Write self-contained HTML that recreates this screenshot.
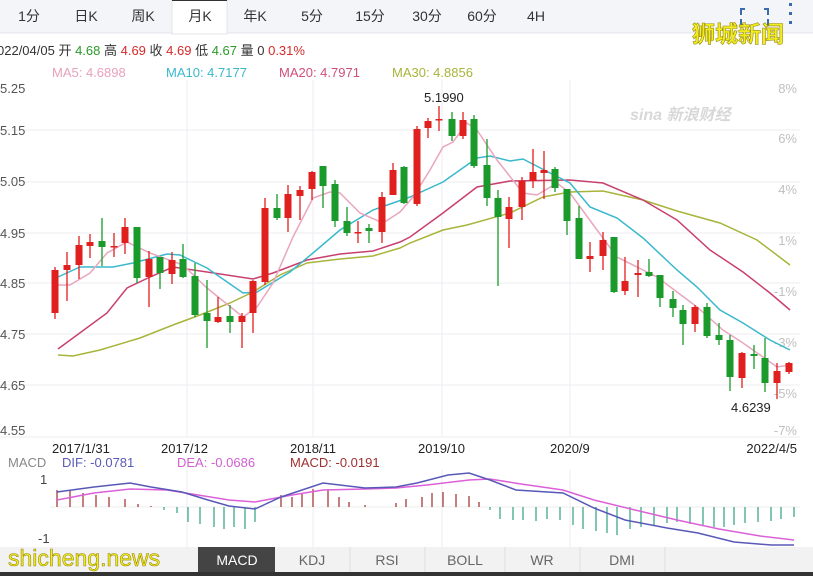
<!DOCTYPE html>
<html><head><meta charset="utf-8"><style>
body{margin:0;width:813px;height:576px;overflow:hidden;background:#fff;font-family:"Liberation Sans","Noto Sans CJK SC",sans-serif;}
svg{position:absolute;left:0;top:0}
</style></head><body>
<svg id="s" width="813" height="576" xmlns="http://www.w3.org/2000/svg" font-family="Liberation Sans, Noto Sans CJK SC, sans-serif">
<rect x="0" y="0" width="813" height="33" fill="#f3f5f8"/>
<line x1="0" y1="33" x2="813" y2="33" stroke="#e0e4ea"/>
<rect x="172" y="0" width="55" height="34" fill="#fff" stroke="#e0e4ea"/>
<line x1="172" y1="0.5" x2="227" y2="0.5" stroke="#333"/>
<g font-size="14" fill="#333" text-anchor="middle">
<text x="29" y="21">1分</text><text x="86" y="21">日K</text><text x="143" y="21">周K</text><text x="200" y="21">月K</text><text x="255" y="21">年K</text><text x="312" y="21">5分</text><text x="370" y="21">15分</text><text x="427" y="21">30分</text><text x="482" y="21">60分</text><text x="536" y="21">4H</text>
</g>
<path d="M745 9h-4v6M764 9h4v6M745 25h-4v-6M764 25h4v-6" stroke="#3a6ab0" stroke-width="2" fill="none"/>
<g fill="#3a6ab0"><rect x="789" y="3" width="3" height="3"/><rect x="789" y="12" width="3" height="3"/><rect x="789" y="21" width="3" height="3"/></g>
<text x="692" y="42" font-size="23" fill="#f2ee1e" stroke="#9a8a10" stroke-width="0.6" font-weight="bold">狮城新闻</text>
<g font-size="13">
<text x="-3" y="55" fill="#333">022/04/05 开 <tspan fill="#2a9a2a">4.68</tspan> 高 <tspan fill="#d42a2a">4.69</tspan> 收 <tspan fill="#d42a2a">4.69</tspan> 低 <tspan fill="#2a9a2a">4.67</tspan> 量 0 <tspan fill="#d42a2a">0.31%</tspan></text>
<text x="52" y="77" fill="#e8a0bd">MA5: 4.6898</text>
<text x="166" y="77" fill="#3ab8cc">MA10: 4.7177</text>
<text x="279" y="77" fill="#d0507a">MA20: 4.7971</text>
<text x="392" y="77" fill="#a8b43a">MA30: 4.8856</text>
</g>
<g stroke="#eceef2"><line x1="0" y1="130" x2="800" y2="130"/><line x1="0" y1="182" x2="800" y2="182"/><line x1="0" y1="233" x2="800" y2="233"/><line x1="0" y1="283" x2="800" y2="283"/><line x1="0" y1="334" x2="800" y2="334"/><line x1="0" y1="385" x2="800" y2="385"/><line x1="0" y1="437" x2="800" y2="437"/>
<line x1="187" y1="80" x2="187" y2="437"/><line x1="313" y1="80" x2="313" y2="437"/><line x1="442" y1="80" x2="442" y2="437"/><line x1="570" y1="80" x2="570" y2="437"/>
<line x1="187" y1="470" x2="187" y2="547"/><line x1="313" y1="470" x2="313" y2="547"/><line x1="442" y1="470" x2="442" y2="547"/><line x1="570" y1="470" x2="570" y2="547"/>
</g>
<g font-size="13" fill="#555"><text x="0" y="93">5.25</text><text x="0" y="135">5.15</text><text x="0" y="186">5.05</text><text x="0" y="238">4.95</text><text x="0" y="288">4.85</text><text x="0" y="339">4.75</text><text x="0" y="390">4.65</text><text x="0" y="435">4.55</text></g>
<g font-size="13" fill="#c0c0c0" text-anchor="end"><text x="797" y="93">8%</text><text x="797" y="143">6%</text><text x="797" y="194">4%</text><text x="797" y="245">1%</text><text x="797" y="296">-1%</text><text x="797" y="347">-3%</text><text x="797" y="398">-5%</text><text x="797" y="435">-7%</text></g>
<text x="630" y="120" font-size="16" fill="#d8d8d8" font-style="italic" font-weight="bold">sina 新浪财经</text>
<g id="candles"></g>
<g font-size="13" fill="#222"><text x="424" y="102">5.1990</text><text x="731" y="412">4.6239</text></g>
<g font-size="13" fill="#222"><text x="52" y="453">2017/1/31</text><text x="161" y="453">2017/12</text><text x="290" y="453">2018/11</text><text x="418" y="453">2019/10</text><text x="550" y="453">2020/9</text><text x="797" y="453" text-anchor="end">2022/4/5</text></g>
<g font-size="13"><text x="8" y="467" fill="#888">MACD</text><text x="62" y="467" fill="#5a5ab8">DIF: -0.0781</text><text x="177" y="467" fill="#d060d0">DEA: -0.0686</text><text x="290" y="467" fill="#a03030">MACD: -0.0191</text></g>
<g font-size="13" fill="#444"><text x="40" y="484">1</text><text x="38" y="543">-1</text></g>
<line x1="50" y1="507" x2="800" y2="507" stroke="#eee"/>
<g id="macd"></g>
<rect x="0" y="547" width="813" height="29" fill="#f2f2f2"/>
<rect x="198" y="547" width="77" height="25" fill="#444"/>
<g stroke="#ddd"><line x1="350" y1="547" x2="350" y2="572"/><line x1="425" y1="547" x2="425" y2="572"/><line x1="505" y1="547" x2="505" y2="572"/><line x1="580" y1="547" x2="580" y2="572"/><line x1="665" y1="547" x2="665" y2="572"/></g>
<g font-size="14" text-anchor="middle" fill="#666"><text x="237" y="565" fill="#fff">MACD</text><text x="312" y="565">KDJ</text><text x="387" y="565">RSI</text><text x="465" y="565">BOLL</text><text x="542" y="565">WR</text><text x="622" y="565">DMI</text></g>
<rect x="0" y="572" width="813" height="4" fill="#333"/>
<text x="8" y="566" font-size="23" fill="#f2ee1e" stroke="#9a8a10" stroke-width="0.6">shicheng.news</text>
</svg>
<script>
var C=[[55,270,313,267,319,1],[67,265,270,252,301,1],[79,245,265,236,279,1],[90,242,246,234,258,1],[102,241,247,218,266,0],[114,246,247,233,257,1],[125,227,243,218,254,1],[137,227,278,227,283,0],[149,259,277,251,307,1],[160,257,273,257,289,0],[172,260,274,252,284,1],[183,259,277,244,278,0],[195,276,315,263,317,0],[207,313,321,280,348,0],[218,317,322,297,323,1],[230,316,322,305,333,0],[242,316,322,313,348,1],[253,281,313,280,333,1],[265,208,282,198,285,1],[277,208,218,194,220,0],[288,194,218,185,232,1],[300,190,196,186,220,1],[312,172,189,171,200,1],[323,166,186,166,208,0],[335,184,221,180,227,0],[347,221,233,207,236,0],[358,232,233,221,243,1],[369,228,231,224,243,0],[382,197,232,192,243,1],[393,170,195,163,195,1],[404,167,203,166,204,0],[417,129,204,126,206,1],[428,121,128,118,138,1],[439,119,120,106,131,1],[452,119,136,112,141,0],[463,120,136,112,139,1],[474,119,166,115,168,0],[487,165,198,139,206,0],[498,198,217,190,286,0],[509,207,219,197,248,1],[522,181,207,177,220,1],[533,172,181,149,188,1],[544,170,173,151,199,1],[555,169,188,167,192,0],[567,189,221,189,235,0],[579,218,259,206,259,0],[590,256,259,242,272,1],[603,240,256,232,270,1],[614,237,292,237,293,0],[625,281,291,257,295,1],[638,273,275,260,297,1],[649,272,276,259,277,0],[660,275,298,275,307,0],[673,299,308,291,317,0],[683,310,324,305,345,0],[695,307,324,305,332,1],[707,307,336,303,338,0],[719,335,340,323,345,0],[730,340,377,335,391,0],[742,353,378,352,388,1],[754,354,356,345,369,0],[765,358,383,338,392,0],[777,371,383,363,399,1],[789,363,372,362,374,1]];
function pl(p,c,w){return '<polyline fill="none" stroke="'+c+'" stroke-width="'+(w||1.5)+'" points="'+p.map(function(a){return a.join(',')}).join(' ')+'"/>';}
var h='';
h+=pl([[58,355],[73,356],[100,350],[140,338],[173,325],[200,315],[230,303],[253,292],[280,275],[307,263],[340,259],[373,256],[400,248],[410,243],[443,230],[467,225],[510,213],[543,197],[570,192],[603,191],[643,200],[677,211],[720,223],[757,240],[790,265]],'#a8b43a');
h+=pl([[58,349],[107,313],[127,288],[150,277],[173,267],[207,272],[253,279],[273,273],[307,260],[340,254],[373,251],[400,242],[410,237],[443,213],[477,187],[510,181],[570,180],[603,183],[643,200],[677,220],[710,250],[743,272],[770,293],[790,310]],'#c8406e');
h+=pl([[58,277],[80,267],[113,267],[133,263],[167,254],[180,255],[207,268],[243,293],[257,292],[290,272],[313,253],[340,230],[373,210],[393,203],[410,197],[443,182],[477,158],[490,156],[510,161],[523,159],[550,173],[570,183],[590,207],[617,218],[643,238],[677,270],[697,287],[720,310],[743,323],[770,340],[790,350]],'#3ab8cc');
h+=pl([[55,285],[70,285],[90,273],[107,253],[127,242],[150,253],[183,265],[207,288],[243,317],[257,307],[273,283],[293,237],[313,198],[330,192],[340,193],[360,213],[383,223],[400,212],[413,197],[430,170],[443,147],[453,142],[467,123],[477,130],[497,160],[523,193],[537,195],[557,183],[570,193],[597,230],[617,257],[637,267],[657,277],[697,307],[723,330],[743,343],[763,357],[777,367],[790,365]],'#eaa6bf');
C.forEach(function(c){var col=c[5]?'#e0201e':'#1a9a2a';h+='<line x1="'+c[0]+'" x2="'+c[0]+'" y1="'+c[3]+'" y2="'+c[4]+'" stroke="'+col+'" stroke-width="1.3"/>';h+='<rect x="'+(c[0]-3.5)+'" y="'+c[1]+'" width="7" height="'+Math.max(1.5,c[2]-c[1])+'" fill="'+col+'"/>';});
document.getElementById('candles').innerHTML=h;
var B=[[57,17],[70,16],[83,14],[96,12],[109,10],[125,8],[138,3],[151,1],[164,-3],[177,-6],[188,-15],[200,-17],[214,-20],[224,-22],[234,-20],[245,-22],[255,-15],[281,12],[292,10],[302,14],[313,18],[328,17],[339,10],[349,5],[365,2],[396,4],[406,8],[422,10],[432,14],[443,15],[456,13],[469,11],[479,5],[490,-3],[500,-12],[513,-13],[523,-13],[536,-14],[547,-12],[560,-13],[573,-18],[583,-22],[596,-24],[607,-26],[617,-28],[630,-22],[641,-20],[654,-18],[667,-16],[677,-15],[690,-17],[703,-18],[714,-20],[724,-20],[734,-18],[745,-16],[758,-15],[771,-14],[781,-12],[794,-10]];
var m='';B.forEach(function(b){m+='<line x1="'+b[0]+'" x2="'+b[0]+'" y1="507" y2="'+(507-b[1])+'" stroke="'+(b[1]>0?'#a02a2a':'#30a080')+'" stroke-width="1.2"/>';});
m+=pl([[57,500],[94,493],[130,489],[167,490],[198,495],[229,500],[255,502],[292,495],[323,490],[365,489],[396,488],[427,485],[469,480],[490,479],[521,484],[563,490],[594,500],[635,510],[677,520],[719,529],[760,536],[794,540]],'#dc60d8');
m+=pl([[57,492],[94,487],[130,483],[151,487],[182,492],[208,500],[229,506],[255,509],[281,497],[323,483],[365,488],[396,487],[417,483],[448,475],[469,473],[490,480],[516,490],[563,493],[594,508],[625,520],[667,528],[698,533],[734,542],[771,545],[794,545]],'#5858b8');
document.getElementById('macd').innerHTML=m;
</script>
</body></html>
